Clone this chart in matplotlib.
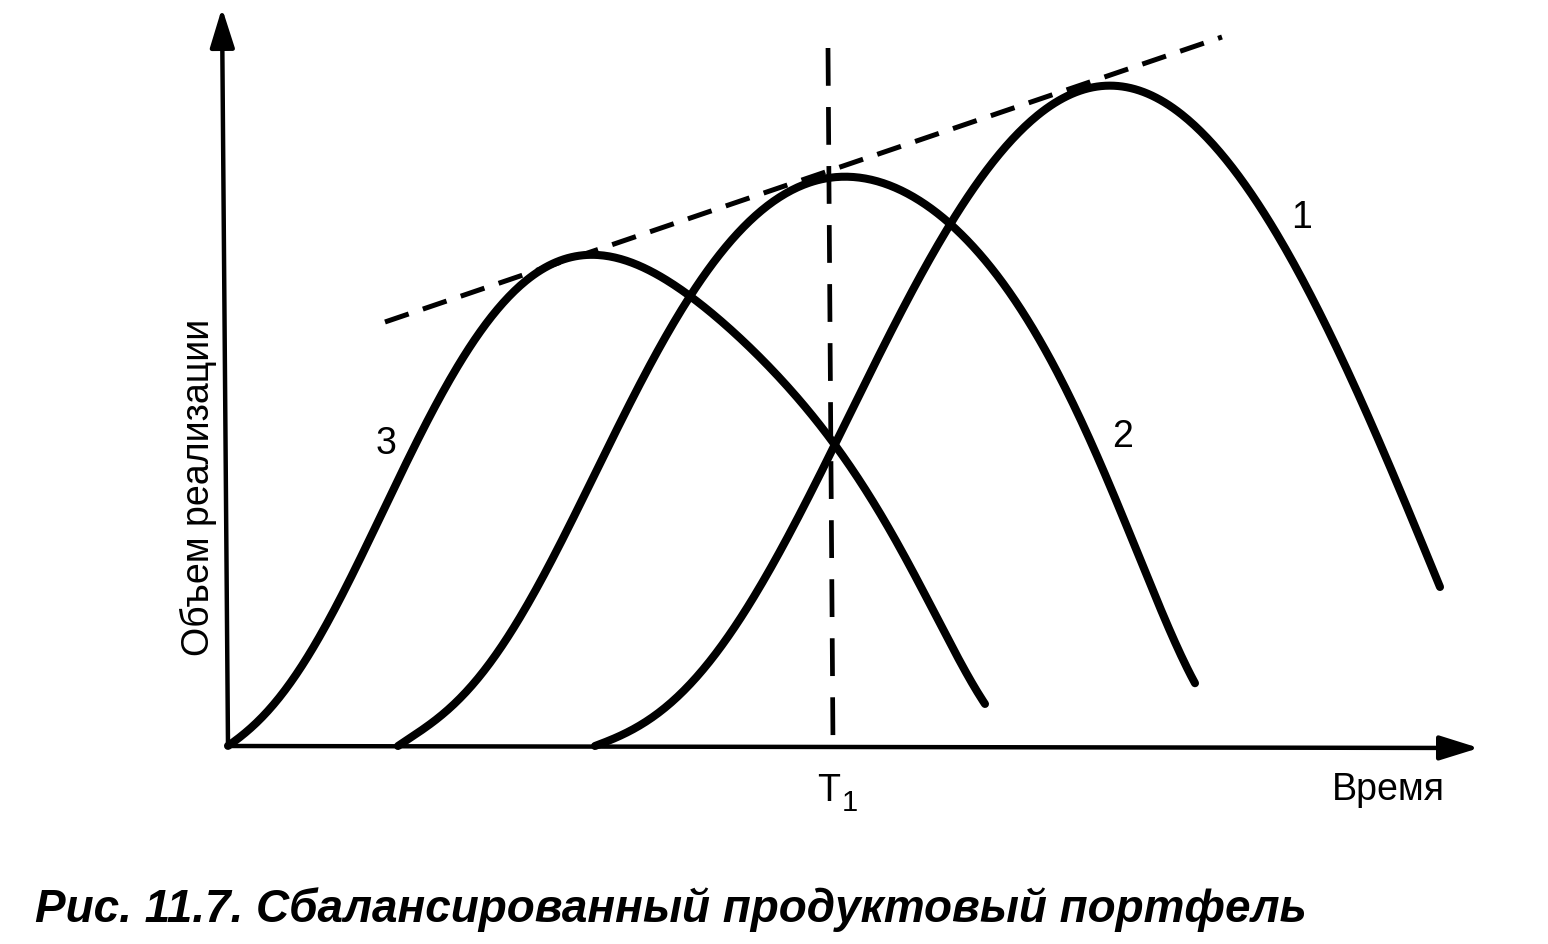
import matplotlib.pyplot as plt
import numpy as np

plt.rcParams['font.family'] = ['Liberation Sans', 'DejaVu Sans']

# points (t = time, v = sales volume), origin at the axes corner
curve3_t = [0, 33, 67, 117, 167, 207, 239, 272, 305, 339, 372, 405, 439, 505, 572, 639, 705, 757]
curve3_v = [0, 30, 67, 150, 260, 340, 403, 443, 468, 481, 487, 483, 469, 419, 344, 249, 137, 42]

curve2_t = [170, 217, 250, 283, 317, 350, 383, 439, 465, 505, 539, 572, 625, 655, 689, 722,
            755, 789, 822, 855, 889, 922, 949, 967]
curve2_v = [0, 33, 67, 117, 173, 240, 306, 406, 451, 509, 543, 561, 571, 564, 546, 519,
            486, 443, 386, 324, 249, 163, 96, 63]

curve1_t = [367, 422, 455, 489, 522, 555, 589, 639, 672, 705, 755, 789, 822, 855, 882, 922,
            955, 989, 1022, 1085, 1155, 1212]
curve1_v = [0, 27, 57, 93, 143, 200, 260, 366, 443, 494, 566, 606, 639, 656, 663, 654,
            633, 599, 548, 446, 296, 159]

tangent_t = [157, 994]
tangent_v = [424, 709]
t1_top, t1_bottom = 600, 605
labels = ['3', '2', '1']
label_t = [158, 895, 1074]
label_v = [302, 309, 528]


def smooth(t, v, deg=7):
    # least-squares polynomial through the read points, ends pinned harder
    w = np.ones(len(t))
    w[[0, 1, -2, -1]] = [6, 2, 2, 6]
    p = np.polynomial.Polynomial.fit(t, v, deg, w=w)
    x = np.linspace(t[0], t[-1], 400)
    y = np.maximum(p(x), 0)
    return x, y


fig = plt.figure(figsize=(15.48, 9.44), dpi=100)
ax = fig.add_axes([0, 0, 1, 1])
ax.set_xlim(-228, 1320)
ax.set_ylim(-198, 746)
ax.axis('off')

# axes with arrows
arrow = dict(arrowstyle='-|>,head_length=2.4,head_width=0.75', lw=3.2, color='black',
             shrinkA=0, shrinkB=0)
ax.annotate('', xy=(1251, -2), xytext=(0, 0), arrowprops=arrow)
ax.annotate('', xy=(-6, 738), xytext=(0, 0), arrowprops=arrow)

for t, v in [(curve3_t, curve3_v), (curve2_t, curve2_v), (curve1_t, curve1_v)]:
    x, y = smooth(t, v)
    ax.plot(x, y, color='black', lw=5.8, solid_capstyle='round')

ax.plot(tangent_t, tangent_v, color='black', lw=3.6, linestyle=(0, (5, 3)), solid_capstyle='round')
ax.plot([t1_top, t1_bottom], [698, 0], color='black', lw=3.4, linestyle=(0, (8, 4.5)))

for lab, t, v in zip(labels, label_t, label_v):
    ax.text(t, v, lab, fontsize=27, ha='center', va='center')

ax.text(t1_top + 1, -45, 'T', fontsize=27, ha='center', va='center')
ax.text(t1_top + 22, -57, '1', fontsize=21, ha='center', va='center')
ax.text(1160, -44, 'Время', fontsize=27, ha='center', va='center')
ax.text(-30, 259, 'Объем реализации', fontsize=27, ha='center', va='center', rotation=90)

fig.text(35 / 1548, 1 - 910 / 944, 'Рис. 11.7. Сбалансированный продуктовый портфель',
         fontsize=33, fontweight='bold', fontstyle='italic', ha='left', va='center')

fig.savefig('out.png', dpi=100, facecolor='white')
